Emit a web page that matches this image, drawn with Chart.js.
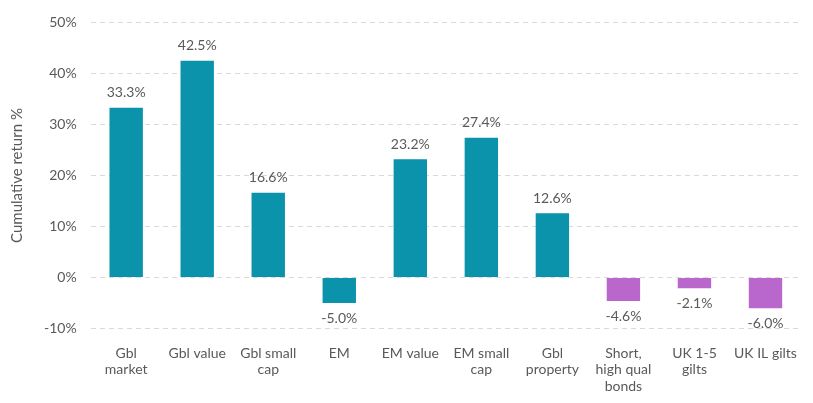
<!DOCTYPE html>
<html>
<head>
<meta charset="utf-8">
<script src="https://cdn.jsdelivr.net/npm/chart.js@4"></script>
<style>
  html, body { margin: 0; padding: 0; background: #fff; }
  #wrap { width: 813px; height: 403px; }
</style>
</head>
<body>
<div id="wrap"><canvas id="c" width="813" height="403"></canvas></div>
<script>
const categories = [['Gbl', 'market'], 'Gbl value', ['Gbl small', 'cap'], 'EM', 'EM value', ['EM small', 'cap'], ['Gbl', 'property'], ['Short,', 'high qual', 'bonds'], ['UK 1-5', 'gilts'], 'UK IL gilts'];
const values = [33.3, 42.5, 16.6, -5.0, 23.2, 27.4, 12.6, -4.6, -2.1, -6.0];
const barColors = ['#0A93AB', '#0A93AB', '#0A93AB', '#0A93AB', '#0A93AB', '#0A93AB', '#0A93AB', '#B967CC', '#B967CC', '#B967CC'];

const TEXT = '#595959';
const FONT = "Lato, 'Open Sans', sans-serif";

const valueLabels = {
  id: 'valueLabels',
  afterDatasetsDraw(chart) {
    const ctx = chart.ctx;
    const meta = chart.getDatasetMeta(0);
    ctx.save();
    ctx.font = '14px ' + FONT;
    ctx.fillStyle = TEXT;
    ctx.textAlign = 'center';
    meta.data.forEach((bar, i) => {
      const v = values[i];
      if (v >= 0) {
        ctx.textBaseline = 'bottom';
        ctx.fillText(v.toFixed(1) + '%', bar.x, bar.y - 8);
      } else {
        ctx.textBaseline = 'top';
        ctx.fillText(v.toFixed(1) + '%', bar.x, bar.y + 8);
      }
    });
    ctx.restore();
  }
};

new Chart(document.getElementById('c'), {
  type: 'bar',
  data: {
    labels: categories,
    datasets: [{
      data: values,
      backgroundColor: barColors,
      borderWidth: 0,
      barPercentage: 0.47,
      categoryPercentage: 1
    }]
  },
  options: {
    responsive: false,
    animation: false,
    layout: { padding: { left: 4, right: 12, top: 2, bottom: 0 } },
    plugins: { legend: { display: false }, tooltip: { enabled: false } },
    scales: {
      x: {
        grid: { display: false },
        border: { display: false },
        ticks: { color: TEXT, font: { family: FONT, size: 14 }, maxRotation: 0, autoSkip: false, padding: 8 }
      },
      y: {
        min: -10, max: 50,
        grid: { color: '#D9D9D9', drawTicks: false },
        border: { display: false, dash: [5, 4] },
        ticks: { stepSize: 10, color: TEXT, font: { family: FONT, size: 14 }, padding: 14, callback: v => v + '%' },
        title: { display: true, text: 'Cumulative return %', color: TEXT, font: { family: FONT, size: 15 } }
      }
    }
  },
  plugins: [valueLabels]
});
</script>
</body>
</html>
